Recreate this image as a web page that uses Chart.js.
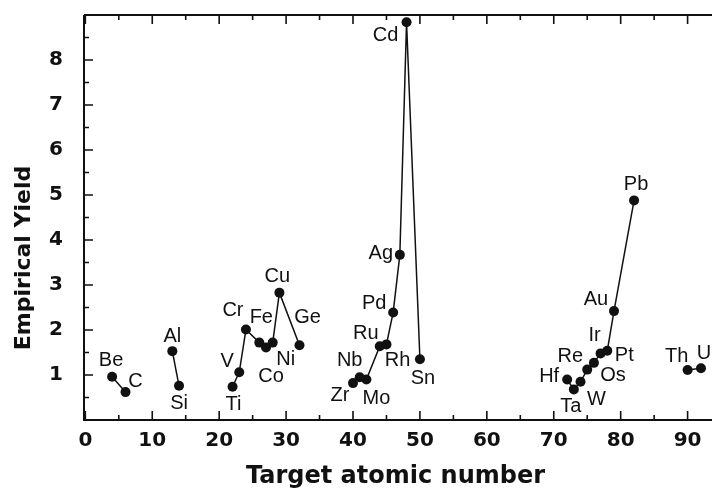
<!DOCTYPE html>
<html>
<head>
<meta charset="utf-8">
<script src="https://cdn.jsdelivr.net/npm/chart.js@4.4.1/dist/chart.umd.min.js"></script>
<style>
  html, body { margin: 0; padding: 0; background: #fff; }
</style>
</head>
<body>
<canvas id="yieldChart" width="712" height="491"></canvas>
<script>
// target elements
const elements = ['Be', 'C', 'Al', 'Si', 'Ti', 'V', 'Cr', 'Fe', 'Co', 'Ni', 'Cu', 'Ge',
    'Zr', 'Nb', 'Mo', 'Ru', 'Rh', 'Pd', 'Ag', 'Cd', 'Sn',
    'Hf', 'Ta', 'W', 'Re', 'Os', 'Ir', 'Pt', 'Au', 'Pb', 'Th', 'U'];
const atomicNumbers = [4, 6, 13, 14, 22, 23, 24, 26, 27, 28, 29, 32,
    40, 41, 42, 44, 45, 46, 47, 48, 50,
    72, 73, 74, 75, 76, 77, 78, 79, 82, 90, 92];
const yields = [0.96, 0.62, 1.53, 0.76, 0.74, 1.06, 2.01, 1.72, 1.61, 1.72, 2.83, 1.66,
    0.82, 0.95, 0.90, 1.64, 1.68, 2.39, 3.67, 8.84, 1.35,
    0.90, 0.68, 0.85, 1.12, 1.27, 1.48, 1.54, 2.42, 4.88, 1.11, 1.15];
// which connected run each point belongs to
const runs = [0, 0, 1, 1, 2, 2, 2, 2, 2, 2, 2, 2,
    3, 3, 3, 3, 3, 3, 3, 3, 3,
    4, 4, 4, 4, 4, 4, 4, 4, 4, 5, 5];
const xTicks = [0, 10, 20, 30, 40, 50, 60, 70, 80, 90];
const yTicks = [1, 2, 3, 4, 5, 6, 7, 8];

// where each element name sits relative to its dot (px)
const labelOffsets = {
    Be: [-1, -16], C: [10, -11], Al: [0, -15], Si: [0, 18], Ti: [1, 18], V: [-12, -11],
    Cr: [-13, -19], Fe: [2, -25], Co: [5, 29], Ni: [13, 17], Cu: [-2, -16], Ge: [8, -28],
    Zr: [-13, 12], Nb: [-10, -17], Mo: [10, 19], Ru: [-14, -13], Rh: [11, 16], Pd: [-19, -9],
    Ag: [-19, -1], Cd: [-21, 13], Sn: [3, 19], Hf: [-18, -3], Ta: [-3, 17], W: [16, 18],
    Re: [-17, -13], Os: [19, 13], Ir: [-6, -18], Pt: [17, 5], Au: [-18, -12], Pb: [2, -16],
    Th: [-11, -14], U: [3, -15]
};

const ink = '#111';
const axisFont = 'DejaVu Sans';

// one line dataset per connected run
const datasets = [];
runs.forEach((run, i) => {
    if (!datasets[run]) {
        datasets[run] = {
            data: [],
            showLine: true,
            borderColor: ink,
            borderWidth: 1.5,
            backgroundColor: ink,
            pointBackgroundColor: ink,
            pointBorderColor: ink,
            pointRadius: 5,
            pointBorderWidth: 0
        };
    }
    datasets[run].data.push({ x: atomicNumbers[i], y: yields[i] });
});

// frame with inward ticks, element names and the y title
const framePlugin = {
    id: 'frame',
    afterDatasetsDraw(chart) {
        const { ctx, chartArea: a, scales: { x, y } } = chart;
        ctx.save();
        ctx.strokeStyle = ink;
        ctx.lineWidth = 2;
        ctx.beginPath();
        ctx.moveTo(a.left, a.top);
        ctx.lineTo(chart.width, a.top);
        ctx.moveTo(a.left, a.top);
        ctx.lineTo(a.left, a.bottom);
        ctx.lineTo(chart.width, a.bottom);
        ctx.stroke();

        ctx.lineWidth = 1.6;
        ctx.beginPath();
        for (let v = 0; v <= 90; v += 5) {
            const px = x.getPixelForValue(v);
            const len = v % 10 === 0 ? 9 : 5;
            ctx.moveTo(px, a.bottom);
            ctx.lineTo(px, a.bottom - len);
            ctx.moveTo(px, a.top);
            ctx.lineTo(px, a.top + len);
        }
        for (let v = 0.5; v < 9; v += 0.5) {
            const py = y.getPixelForValue(v);
            const len = Number.isInteger(v) ? 9 : 5;
            ctx.moveTo(a.left, py);
            ctx.lineTo(a.left + len, py);
        }
        ctx.stroke();

        ctx.fillStyle = ink;
        ctx.font = '20px "Liberation Sans"';
        ctx.textAlign = 'center';
        ctx.textBaseline = 'middle';
        elements.forEach((name, i) => {
            const [dx, dy] = labelOffsets[name];
            ctx.fillText(name, x.getPixelForValue(atomicNumbers[i]) + dx, y.getPixelForValue(yields[i]) + dy);
        });

        ctx.font = 'bold 22px "' + axisFont + '"';
        ctx.translate(24, 258);
        ctx.rotate(-Math.PI / 2);
        ctx.fillText('Empirical Yield', 0, 0);
        ctx.restore();
    }
};

new Chart(document.getElementById('yieldChart'), {
    type: 'scatter',
    data: { datasets },
    options: {
        responsive: false,
        animation: false,
        layout: { padding: { top: 15, right: 0, bottom: 0, left: 0 } },
        plugins: {
            legend: { display: false },
            tooltip: { enabled: false }
        },
        scales: {
            x: {
                type: 'linear',
                min: -0.2,
                max: 92.9,
                afterBuildTicks: scale => { scale.ticks = xTicks.map(v => ({ value: v })); },
                afterFit: scale => {
                    scale.height = 71;
                    scale.paddingLeft = 0;
                    scale.paddingRight = 0;
                },
                grid: { display: false, drawTicks: false },
                border: { display: false },
                ticks: {
                    autoSkip: false,
                    maxRotation: 0,
                    padding: 9,
                    color: ink,
                    font: { family: axisFont, size: 20, weight: 'bold' }
                },
                title: {
                    display: true,
                    text: 'Target atomic number',
                    color: ink,
                    padding: { top: 0, bottom: 0 },
                    font: { family: axisFont, size: 24, weight: 'bold' }
                }
            },
            y: {
                type: 'linear',
                min: 0,
                max: 9,
                afterBuildTicks: scale => { scale.ticks = yTicks.map(v => ({ value: v })); },
                afterFit: scale => {
                    scale.width = 84;
                    scale.paddingTop = 0;
                    scale.paddingBottom = 0;
                },
                grid: { display: false, drawTicks: false },
                border: { display: false },
                ticks: {
                    autoSkip: false,
                    padding: 21,
                    color: ink,
                    font: { family: axisFont, size: 20, weight: 'bold' }
                }
            }
        }
    },
    plugins: [framePlugin]
});
</script>
</body>
</html>
